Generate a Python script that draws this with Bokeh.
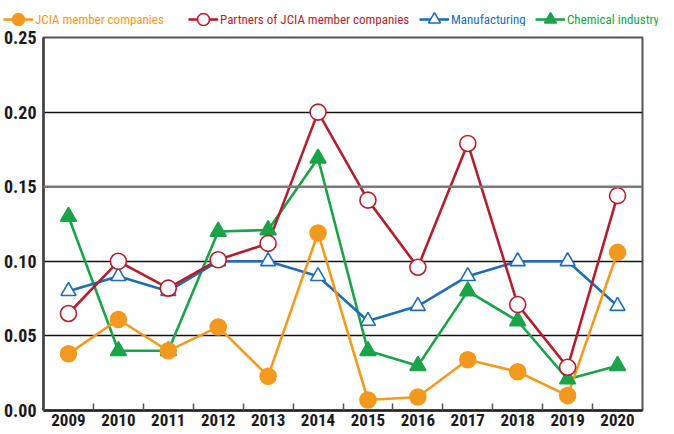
from bokeh.plotting import figure
from bokeh.layouts import column
from bokeh.models import FixedTicker, Span, Legend, LegendItem, Range1d, NumeralTickFormatter
from bokeh.embed import file_html
from bokeh.resources import INLINE

years = [2009, 2010, 2011, 2012, 2013, 2014, 2015, 2016, 2017, 2018, 2019, 2020]
year_labels = [str(y) for y in years]
jcia = [0.038, 0.061, 0.040, 0.056, 0.023, 0.119, 0.007, 0.009, 0.034, 0.026, 0.010, 0.106]
partners = [0.065, 0.100, 0.082, 0.101, 0.112, 0.200, 0.141, 0.096, 0.179, 0.071, 0.029, 0.144]
manufacturing = [0.080, 0.090, 0.080, 0.100, 0.100, 0.090, 0.060, 0.070, 0.090, 0.100, 0.100, 0.070]
chemical = [0.130, 0.040, 0.040, 0.120, 0.121, 0.169, 0.040, 0.030, 0.080, 0.060, 0.021, 0.030]
y_ticks = [0.0, 0.05, 0.10, 0.15, 0.20, 0.25]

FONT = "Roboto Condensed, Noto Sans Condensed, DejaVu Sans Condensed, sans-serif"
ORANGE = "#F39A1E"
RED = "#B31F2D"
BLUE = "#1F6DB4"
GREEN = "#1BA34A"

p = figure(width=658, height=407, output_backend="svg", toolbar_location=None,
           x_range=Range1d(2008.5, 2020.5), y_range=Range1d(0, 0.25),
           min_border_left=37, min_border_right=16, min_border_top=11, min_border_bottom=23)
p.frame_align = False
p.background_fill_color = "white"
p.outline_line_color = "#555555"
p.outline_line_width = 2

# x axis
p.xaxis.ticker = FixedTicker(ticks=years, minor_ticks=[y + 0.5 for y in years[:-1]])
p.xaxis.major_label_overrides = {y: lab for y, lab in zip(years, year_labels)}
p.xaxis.major_tick_in = 0
p.xaxis.major_tick_out = 0
p.xaxis.minor_tick_in = 7
p.xaxis.minor_tick_out = 0
p.xaxis.minor_tick_line_color = "#555555"
p.xaxis.minor_tick_line_width = 1.5
p.xaxis.axis_line_color = "#222222"
p.xaxis.axis_line_width = 2.5
p.xaxis.major_label_standoff = 3
p.xaxis.major_label_text_font = FONT
p.xaxis.major_label_text_font_style = "bold"
p.xaxis.major_label_text_font_size = "17px"
p.xaxis.major_label_text_color = "#1a1a1a"

# y axis
p.yaxis.ticker = FixedTicker(ticks=y_ticks)
p.yaxis.formatter = NumeralTickFormatter(format="0.00")
p.yaxis.major_tick_in = 0
p.yaxis.major_tick_out = 0
p.yaxis.minor_tick_line_color = None
p.yaxis.axis_line_color = "#444444"
p.yaxis.axis_line_width = 2.5
p.yaxis.major_label_standoff = 7
p.yaxis.major_label_text_font = FONT
p.yaxis.major_label_text_font_style = "bold"
p.yaxis.major_label_text_font_size = "18px"
p.yaxis.major_label_text_color = "#1a1a1a"

p.xgrid.visible = False
p.ygrid.ticker = FixedTicker(ticks=[0.05, 0.10, 0.20])
p.ygrid.grid_line_color = "#111111"
p.ygrid.grid_line_width = 1.3
p.add_layout(Span(location=0.15, dimension="width", line_color="#7a7a7a", line_width=2.5))

series = [
    ("JCIA member companies", jcia, ORANGE, "circle", ORANGE, 16, 3),
    ("Partners of JCIA member companies", partners, RED, "circle", "white", 16, 188),
    ("Manufacturing", manufacturing, BLUE, "triangle", "white", 15, 419),
    ("Chemical industry", chemical, GREEN, "triangle", GREEN, 16, 535),
]

for name, vals, col, marker, fill, size, lx in [series[3], series[2], series[1], series[0]]:
    p.line(years, vals, line_color=col, line_width=2.6)
for name, vals, col, marker, fill, size, lx in [series[3], series[2], series[1], series[0]]:
    p.scatter(years, vals, marker=marker, size=size, line_color=col,
              fill_color=fill, line_width=1.6)

# legend strip on top (proxy renderers use the same data, outside the strip's view)
strip = figure(width=658, height=26, output_backend="svg", toolbar_location=None,
               x_range=Range1d(0, 1), y_range=Range1d(0, 1),
               x_axis_location=None, y_axis_location=None, min_border=0)
strip.frame_align = False
strip.grid.visible = False
strip.outline_line_color = None
for name, vals, col, marker, fill, size, lx in series:
    lr = strip.line(years, vals, line_color=col, line_width=2.6)
    mr = strip.scatter(years, vals, marker=marker, size=size, line_color=col,
                       fill_color=fill, line_width=1.6)
    leg = Legend(items=[LegendItem(label=name, renderers=[lr, mr], index=0)],
                 location=(lx, -8), orientation="horizontal",
                 border_line_color=None, background_fill_alpha=0,
                 label_text_color=col, label_text_font=FONT,
                 label_text_font_size="13px", glyph_width=30, glyph_height=30,
                 label_height=30, label_standoff=2, padding=0, margin=0, spacing=0)
    strip.add_layout(leg, "center")

layout = column(strip, p, spacing=0)
open("out.html", "w").write(file_html(layout, INLINE))
